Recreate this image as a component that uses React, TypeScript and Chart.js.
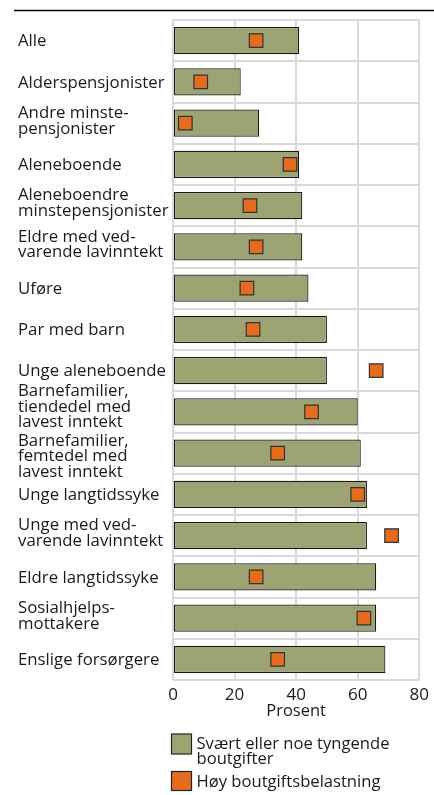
import React, { useEffect, useRef } from "react";
import { Chart, registerables } from "chart.js";

Chart.register(...registerables);

const categories: string[][] = [
  ["Alle"],
  ["Alderspensjonister"],
  ["Andre minste-", "pensjonister"],
  ["Aleneboende"],
  ["Aleneboendre", "minstepensjonister"],
  ["Eldre med ved-", "varende lavinntekt"],
  ["Uføre"],
  ["Par med barn"],
  ["Unge aleneboende"],
  ["Barnefamilier,", "tiendedel med", "lavest inntekt"],
  ["Barnefamilier,", "femtedel med", "lavest inntekt"],
  ["Unge langtidssyke"],
  ["Unge med ved-", "varende lavinntekt"],
  ["Eldre langtidssyke"],
  ["Sosialhjelps-", "mottakere"],
  ["Enslige forsørgere"],
];

const tyngende: number[] = [41, 22, 28, 41, 42, 42, 44, 50, 50, 60, 61, 63, 63, 66, 66, 69];
const hoyBelastning: number[] = [27, 9, 4, 38, 25, 27, 24, 26, 66, 45, 34, 60, 71, 27, 62, 34];

const xTicks: number[] = [0, 20, 40, 60, 80];
const legendGreen: string[] = ["Svært eller noe tyngende", "boutgifter"];
const legendOrange: string[] = ["Høy boutgiftsbelastning"];
const axisTitle = "Prosent";

const GREEN = "#9ea374";
const ORANGE = "#e36c1e";
const TEXT = "#1a1a1a";
const FONT = "'Open Sans', sans-serif";
const LABEL_SIZE = 16.8;
const LABEL_LINE = 15.7;
const MIN_GAP = 18.4;

export default function App() {
  const ref = useRef<HTMLCanvasElement | null>(null);

  useEffect(() => {
    if (!ref.current) return;
    const extras = {
      id: "extras",
      beforeDraw(chart: any) {
        const ctx = chart.ctx;
        ctx.save();
        ctx.strokeStyle = "#000";
        ctx.lineWidth = 1.5;
        ctx.beginPath();
        ctx.moveTo(14, 10.5);
        ctx.lineTo(434, 10.5);
        ctx.stroke();
        ctx.restore();
      },
      afterDraw(chart: any) {
        const ctx = chart.ctx;
        const yScale = chart.scales.y;
        ctx.save();
        ctx.fillStyle = TEXT;
        ctx.font = `${LABEL_SIZE}px ${FONT}`;
        ctx.textBaseline = "alphabetic";
        ctx.textAlign = "left";
        let lastBaseline = -Infinity;
        categories.forEach((lines, i) => {
          const c = yScale.getPixelForTick(i);
          const n = lines.length;
          let first = c + 5.7 - (n - 1) * 3 - ((n - 1) / 2) * LABEL_LINE;
          if (first < lastBaseline + MIN_GAP) first = lastBaseline + MIN_GAP;
          lines.forEach((t, j) => {
            const y = first + j * LABEL_LINE;
            ctx.fillText(t, yScale.left, y);
            lastBaseline = y;
          });
        });

        const left = chart.chartArea.left - 1.5;
        ctx.lineWidth = 1.2;
        ctx.strokeStyle = "#222";
        ctx.fillStyle = GREEN;
        ctx.fillRect(left, 734, 20, 20);
        ctx.strokeRect(left, 734, 20, 20);
        ctx.fillStyle = ORANGE;
        ctx.fillRect(left, 771.5, 20, 19);
        ctx.strokeRect(left, 771.5, 20, 19);
        ctx.fillStyle = TEXT;
        ctx.font = `16.6px ${FONT}`;
        legendGreen.forEach((t, i) => ctx.fillText(t, left + 25, 748.5 + i * 15.5));
        legendOrange.forEach((t, i) => ctx.fillText(t, left + 25, 786.5 + i * 15.5));
        ctx.restore();
      },
    };

    const chart = new Chart(ref.current, {
      type: "bar",
      data: {
        labels: categories,
        datasets: [
          {
            type: "line",
            label: legendOrange.join(" "),
            data: hoyBelastning,
            indexAxis: "y",
            showLine: false,
            pointStyle: "rect",
            pointRadius: 9.6,
            pointBackgroundColor: ORANGE,
            pointBorderColor: "#333",
            pointBorderWidth: 1.2,
            order: 0,
          } as any,
          {
            type: "bar",
            label: legendGreen.join(" "),
            data: tyngende,
            backgroundColor: GREEN,
            borderColor: "#1a1a1a",
            borderWidth: 1.2,
            borderSkipped: false,
            barPercentage: 0.66,
            categoryPercentage: 1,
            order: 1,
          },
        ],
      },
      options: {
        indexAxis: "y",
        animation: false,
        responsive: true,
        maintainAspectRatio: false,
        layout: { padding: { top: 20, left: 18, right: 10.5, bottom: 75 } },
        plugins: {
          legend: { display: false },
          tooltip: { enabled: false },
        },
        scales: {
          x: {
            type: "linear",
            min: 0,
            max: 80,
            position: "bottom",
            afterBuildTicks: (s: any) => {
              s.ticks = xTicks.map((v) => ({ value: v }));
            },
            afterFit: (s: any) => {
              s.height = 40;
            },
            grid: { color: "#d9d9d9", lineWidth: 2, drawTicks: false },
            border: { display: false },
            ticks: {
              color: TEXT,
              font: { family: FONT, size: 17, lineHeight: 1.2 },
              padding: 5,
              maxRotation: 0,
            },
            title: {
              display: true,
              text: axisTitle,
              color: TEXT,
              font: { family: FONT, size: 16.5, lineHeight: 1.0 },
              padding: { top: 0, bottom: 0 },
            },
          },
          y: {
            type: "category",
            position: "left",
            afterFit: (s: any) => {
              s.width = 155;
            },
            grid: { color: "#d9d9d9", lineWidth: 2, drawTicks: false, offset: true },
            border: { display: false },
            ticks: { display: false, autoSkip: false },
          },
        },
      },
      plugins: [extras],
    });
    return () => chart.destroy();
  }, []);

  return (
    <div style={{ position: "absolute", left: 0, top: 0, width: 434, height: 795 }}>
      <canvas ref={ref} />
    </div>
  );
}
